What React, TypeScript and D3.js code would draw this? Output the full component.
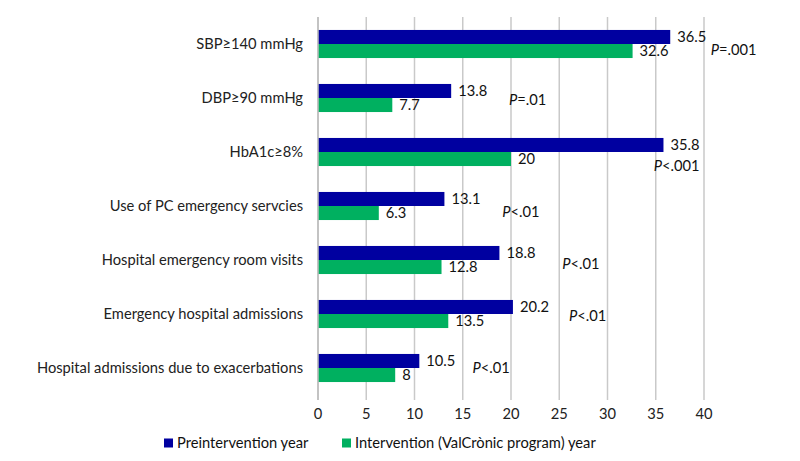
import React, { useEffect, useRef } from 'react';
import * as d3 from 'd3';

// chart values
const categories = [
  'SBP≥140 mmHg',
  'DBP≥90 mmHg',
  'HbA1c≥8%',
  'Use of PC emergency servcies',
  'Hospital emergency room visits',
  'Emergency hospital admissions',
  'Hospital admissions due to exacerbations',
];
const preValues = [36.5, 13.8, 35.8, 13.1, 18.8, 20.2, 10.5];
const intValues = [32.6, 7.7, 20, 6.3, 12.8, 13.5, 8];
const pSigns = ['=', '=', '<', '<', '<', '<', '<'];
const pNumbers = ['.001', '.01', '.001', '.01', '.01', '.01', '.01'];
// where the P annotations sit, in axis units
const pAt = [40.7, 19.8, 34.8, 19.1, 25.3, 26.0, 16.0];
const pDrop = [0.1, 0.04, 0.26, 0.11, 0.07, 0.04, 0.0];
const xTicks = [0, 5, 10, 15, 20, 25, 30, 35, 40];
const seriesNames = ['Preintervention year', 'Intervention (ValCrònic program) year'];
const colors = ['#0000a0', '#00b060'];

const FONT = 'Lato, "Open Sans", sans-serif';
const FS = '14.7px';

function Chart() {
  const ref = useRef<SVGSVGElement>(null);

  useEffect(() => {
    const svg = d3.select(ref.current);
    svg.selectAll('*').remove();

    const margin = { top: 17, left: 318, right: 96, bottom: 66 };
    const W = 800, H = 461;
    const w = W - margin.left - margin.right;
    const h = H - margin.top - margin.bottom;

    const g = svg.append('g').attr('transform', `translate(${margin.left}, ${margin.top})`);

    const x = d3.scaleLinear().domain([0, 40]).range([0, w]);
    const y = d3.scaleBand().domain(categories).range([0, h]).paddingInner(0.48).paddingOuter(0.24);
    const inner = d3.scaleBand().domain(['pre', 'int']).range([0, y.bandwidth()]);

    // grid lines
    g.selectAll('.grid').data(xTicks).join('line').attr('class', 'grid')
      .attr('x1', d => x(d)).attr('x2', d => x(d))
      .attr('y1', 0).attr('y2', h + 5)
      .attr('stroke', '#c9c9c9').attr('stroke-width', 1.5);

    // tick labels
    g.selectAll('.tick-label').data(xTicks).join('text').attr('class', 'tick-label')
      .attr('x', d => x(d)).attr('y', h + 19)
      .attr('dy', '0.35em').attr('text-anchor', 'middle')
      .style('font-family', FONT).style('font-size', FS).style('fill', '#222')
      .text(d => d);

    // category labels
    g.selectAll('.cat').data(categories).join('text').attr('class', 'cat')
      .attr('x', -15).attr('y', d => y(d)! + y.bandwidth() / 2)
      .attr('dy', '0.35em').attr('text-anchor', 'end')
      .style('font-family', FONT).style('font-size', FS).style('fill', '#222')
      .text(d => d);

    const rows = categories.map((c, i) => ({ c, pre: preValues[i], int: intValues[i], i }));

    const drawSeries = (key: 'pre' | 'int', color: string) => {
      g.selectAll(`.bar-${key}`).data(rows).join('rect').attr('class', `bar-${key}`)
        .attr('x', x(0)).attr('y', d => y(d.c)! + inner(key)!)
        .attr('width', d => x(d[key]) - x(0)).attr('height', inner.bandwidth())
        .attr('fill', color);
      g.selectAll(`.val-${key}`).data(rows).join('text').attr('class', `val-${key}`)
        .attr('x', d => x(d[key]) + 7).attr('y', d => y(d.c)! + inner(key)! + inner.bandwidth() / 2)
        .attr('dy', '0.35em')
        .style('font-family', FONT).style('font-size', FS).style('fill', '#111')
        .text(d => d[key]);
    };
    drawSeries('pre', colors[0]);
    drawSeries('int', colors[1]);

    // axis line at zero
    g.append('line').attr('x1', x(0)).attr('x2', x(0)).attr('y1', 0).attr('y2', h + 5)
      .attr('stroke', '#bdbdbd').attr('stroke-width', 1.5);

    // P annotations
    const pt = g.selectAll('.pval').data(rows).join('text').attr('class', 'pval')
      .attr('x', d => x(pAt[d.i]))
      .attr('y', d => y(d.c)! + y.bandwidth() / 2 + pDrop[d.i] * y.step())
      .attr('dy', '0.35em')
      .style('font-family', FONT).style('font-size', FS).style('fill', '#111');
    pt.append('tspan').style('font-style', 'italic').text('P');
    pt.append('tspan').text(d => pSigns[d.i] + pNumbers[d.i]);

    // legend
    const lg = svg.append('g').attr('transform', 'translate(164, 443)');
    const offsets = [0, 178];
    seriesNames.forEach((name, i) => {
      lg.append('rect').attr('x', offsets[i]).attr('y', -4.5).attr('width', 9).attr('height', 9).attr('fill', colors[i]);
      lg.append('text').attr('x', offsets[i] + 13).attr('y', 0).attr('dy', '0.35em')
        .style('font-family', FONT).style('font-size', FS).style('fill', '#111')
        .text(name);
    });
  }, []);

  return <svg ref={ref} width={800} height={461} style={{ position: 'absolute', left: 0, top: 0, background: '#fff' }} />;
}

export default function App() {
  return <Chart />;
}
